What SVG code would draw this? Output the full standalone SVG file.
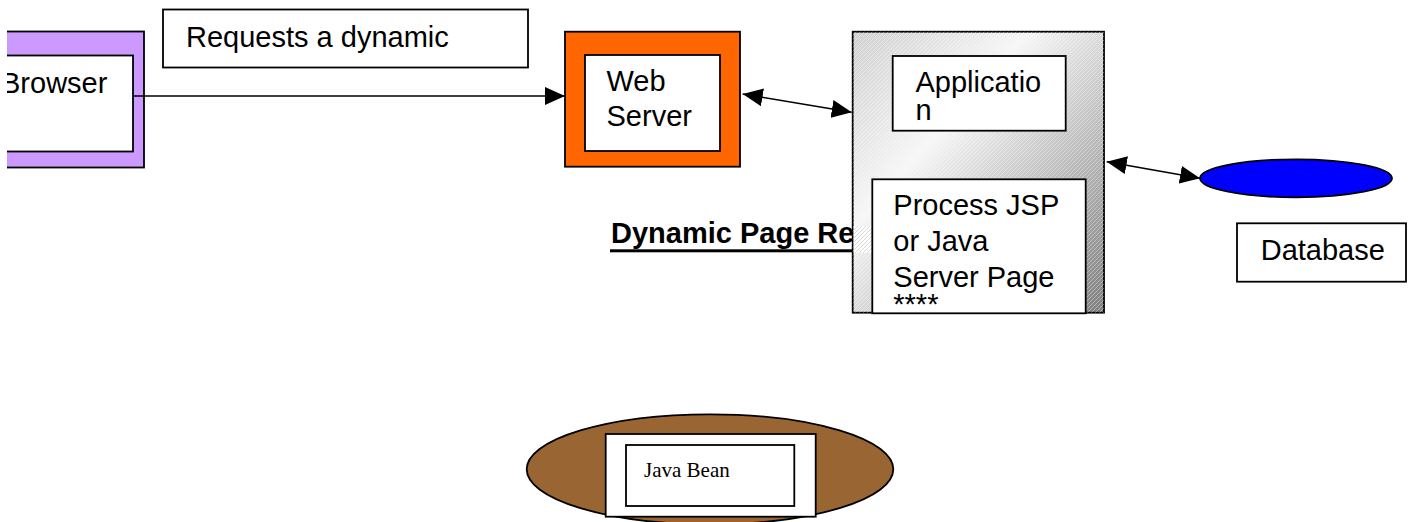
<svg xmlns="http://www.w3.org/2000/svg" width="1413" height="522" viewBox="0 0 1413 522">
<style>
  .t { font-family: "Liberation Sans", Arial, sans-serif; font-size: 29px; fill: #000; }
  .b { stroke: #000; stroke-width: 1.8; }
  .ln { stroke: #000; stroke-width: 1.6; fill: none; }
</style>
<defs>
  <marker id="ah" markerUnits="userSpaceOnUse" markerWidth="22" markerHeight="18" refX="20" refY="9" orient="auto-start-reverse">
    <path d="M0,0 L20,9 L0,18 Z" fill="#000"/>
  </marker>
  <linearGradient id="gr" x1="0" y1="0" x2="1" y2="1">
    <stop offset="0" stop-color="#d0d0d0"/>
    <stop offset="0.35" stop-color="#f6f6f6"/>
    <stop offset="1" stop-color="#808080"/>
  </linearGradient>
  <pattern id="hatch" patternUnits="userSpaceOnUse" width="4" height="4">
    <path d="M-1,1 L1,-1 M0,4 L4,0 M3,5 L5,3" stroke="#ffffff" stroke-opacity="0.35" stroke-width="1"/>
  </pattern>
  <pattern id="hatch2" patternUnits="userSpaceOnUse" width="4" height="4">
    <path d="M-1,1 L1,-1 M0,4 L4,0 M3,5 L5,3" stroke="#888" stroke-opacity="0.35" stroke-width="1"/>
  </pattern>
  <clipPath id="leftclip"><rect x="7" y="0" width="1406" height="522"/></clipPath>
</defs>

<g id="browser" clip-path="url(#leftclip)">
  <rect x="0" y="31.5" width="144" height="136" fill="#cc99ff" class="b"/>
  <rect x="0" y="55.5" width="133" height="96" fill="#fff" class="b"/>
  <text class="t" x="1" y="92.7">Browser</text>
</g>

<g id="requests-label">
  <rect x="163" y="9.5" width="365" height="58" fill="#fff" class="b"/>
  <text class="t" x="186" y="46.7">Requests a dynamic</text>
</g>

<g id="web-server">
  <rect x="565" y="31.7" width="175" height="135" fill="#ff6600" class="b"/>
  <rect x="585" y="55" width="135" height="96" fill="#fff" class="b"/>
  <text class="t" x="606.5" y="91">Web</text>
  <text class="t" x="606.5" y="126">Server</text>
</g>

<g id="dynamic-page-label">
  <text class="t" x="611" y="243" font-weight="bold" font-size="28.5">Dynamic Page Re</text>
  <rect x="610" y="249.3" width="243" height="3" fill="#000"/>
</g>

<g id="application-server">
  <rect x="852.7" y="31.7" width="251.3" height="281" fill="url(#gr)" class="b"/>
  <rect x="852.7" y="31.7" width="251.3" height="281" fill="url(#hatch)"/>
  <rect x="853.7" y="226" width="18.5" height="27" fill="#fff"/>
  <rect x="853.7" y="226" width="18.5" height="27" fill="url(#hatch2)"/>
  <g id="application">
    <rect x="892.7" y="56" width="173" height="74.7" fill="#fff" class="b"/>
    <text class="t" x="915.5" y="91.7">Applicatio</text>
    <text class="t" x="915.5" y="120">n</text>
  </g>
  <g id="process-jsp">
    <rect x="872.3" y="179.3" width="213.4" height="134" fill="#fff" class="b"/>
    <text class="t" x="893.3" y="215">Process JSP</text>
    <text class="t" x="893.3" y="250.7">or Java</text>
    <text class="t" x="893.3" y="286.5">Server Page</text>
    <text class="t" x="893.3" y="314">****</text>
  </g>
</g>

<g id="database">
  <ellipse cx="1296" cy="178.3" rx="96" ry="19" fill="#0000ff" class="b"/>
</g>

<g id="database-label">
  <rect x="1237" y="223.3" width="169" height="58.4" fill="#fff" class="b"/>
  <text class="t" x="1260.7" y="260">Database</text>
</g>

<g id="java-bean">
  <ellipse cx="710" cy="469.3" rx="183.3" ry="55" fill="#996633" class="b"/>
  <rect x="605.7" y="434" width="210" height="82.7" fill="#fff" class="b"/>
  <rect x="626" y="445" width="168.3" height="61" fill="#fff" class="b"/>
  <text x="644" y="476.7" font-family="'Liberation Serif', 'Times New Roman', serif" font-size="21" fill="#000">Java Bean</text>
</g>

<g id="connectors">
  <line x1="133" y1="96" x2="565" y2="96" class="ln" marker-end="url(#ah)"/>
  <line x1="742.7" y1="94" x2="851.7" y2="112.3" class="ln" marker-start="url(#ah)" marker-end="url(#ah)"/>
  <line x1="1106.7" y1="161.7" x2="1200" y2="178.3" class="ln" marker-start="url(#ah)" marker-end="url(#ah)"/>
</g>
</svg>
